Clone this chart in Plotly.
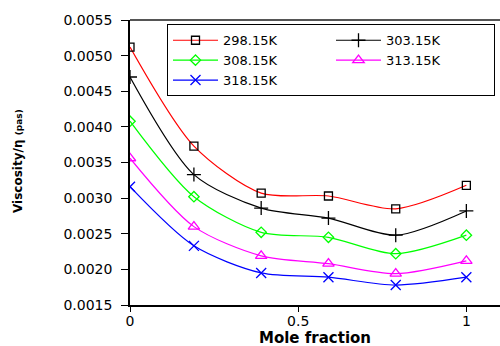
import plotly.graph_objects as go

mole_fraction = [0.0, 0.19, 0.39, 0.59, 0.79, 1.0]
series_names = ["298.15K", "303.15K", "308.15K", "313.15K", "318.15K"]
v_298 = [0.00512, 0.00373, 0.00307, 0.00303, 0.00285, 0.00318]
v_303 = [0.00470, 0.00333, 0.00286, 0.00272, 0.00248, 0.00282]
v_308 = [0.00408, 0.00302, 0.00252, 0.00245, 0.00222, 0.00248]
v_313 = [0.00356, 0.00260, 0.00219, 0.00208, 0.00194, 0.00212]
v_318 = [0.00316, 0.00233, 0.00195, 0.00189, 0.00178, 0.00189]
y_ticks = [0.0015, 0.0020, 0.0025, 0.0030, 0.0035, 0.0040, 0.0045, 0.0050, 0.0055]
x_ticks = [0, 0.5, 1]
x_tick_labels = ["0", "0.5", "1"]

styles = [
    ("red", "square-open", "black", 8),
    ("black", "cross-thin-open", "black", 10),
    ("#00ff00", "diamond-open", "#00ff00", 8),
    ("magenta", "triangle-up-open", "magenta", 10),
    ("blue", "x-thin-open", "blue", 10),
]
values = [v_298, v_303, v_308, v_313, v_318]

FONT = "DejaVu Sans"
fig = go.Figure()
for name, vals, (lc, sym, mc, ms) in zip(series_names, values, styles):
    fig.add_trace(go.Scatter(
        x=mole_fraction, y=vals, name=name, mode="lines+markers",
        line=dict(color=lc, width=1.2, shape="spline", smoothing=0.8),
        marker=dict(symbol=sym, size=ms, color=mc, line=dict(color=mc, width=1.3)),
    ))

fig.update_layout(
    width=500, height=346,
    margin=dict(l=130, r=0, t=20, b=41),
    paper_bgcolor="white", plot_bgcolor="white",
    font=dict(family=FONT, color="black", size=13),
    showlegend=True,
    legend=dict(
        orientation="h", x=0.1, y=0.985, xanchor="left", yanchor="top",
        bordercolor="black", borderwidth=1, bgcolor="white",
        entrywidth=103, entrywidthmode="pixels", itemwidth=45,
        font=dict(family=FONT, size=13), tracegroupgap=0,
    ),
    xaxis=dict(
        range=[0, 1.1], tickvals=x_ticks, ticktext=x_tick_labels,
        ticks="outside", ticklen=5, tickcolor="black",
        showline=True, linecolor="black", linewidth=1.5,
        showgrid=False, zeroline=False, ticklabelstandoff=-3,
        tickfont=dict(family=FONT, size=14),
    ),
    yaxis=dict(
        range=[0.0015, 0.0055], tickvals=y_ticks, tickformat=".4f",
        ticks="outside", ticklen=7, tickcolor="black",
        showline=True, linecolor="black", linewidth=1.5,
        showgrid=False, zeroline=False, ticklabelstandoff=6,
        tickfont=dict(family=FONT, size=14),
    ),
    shapes=[dict(type="line", xref="paper", yref="paper", x0=0, x1=1, y0=1, y1=1,
                 line=dict(color="#555555", width=2))],
    annotations=[
        dict(text="<b>Mole fraction</b>", xref="paper", yref="paper",
             x=0.5, y=-0.117, xanchor="center", yanchor="middle", showarrow=False,
             font=dict(family=FONT, size=15)),
        dict(text="<b>Viscosity/η <span style='font-size:9px'>(pas)</span></b>",
             xref="paper", yref="paper", x=-0.303, y=0.505, textangle=-90,
             xanchor="center", yanchor="middle", showarrow=False,
             font=dict(family=FONT, size=12)),
    ],
)

fig.write_html("out.html", config={"displayModeBar": False},
               post_script="document.body.style.margin='0';")
